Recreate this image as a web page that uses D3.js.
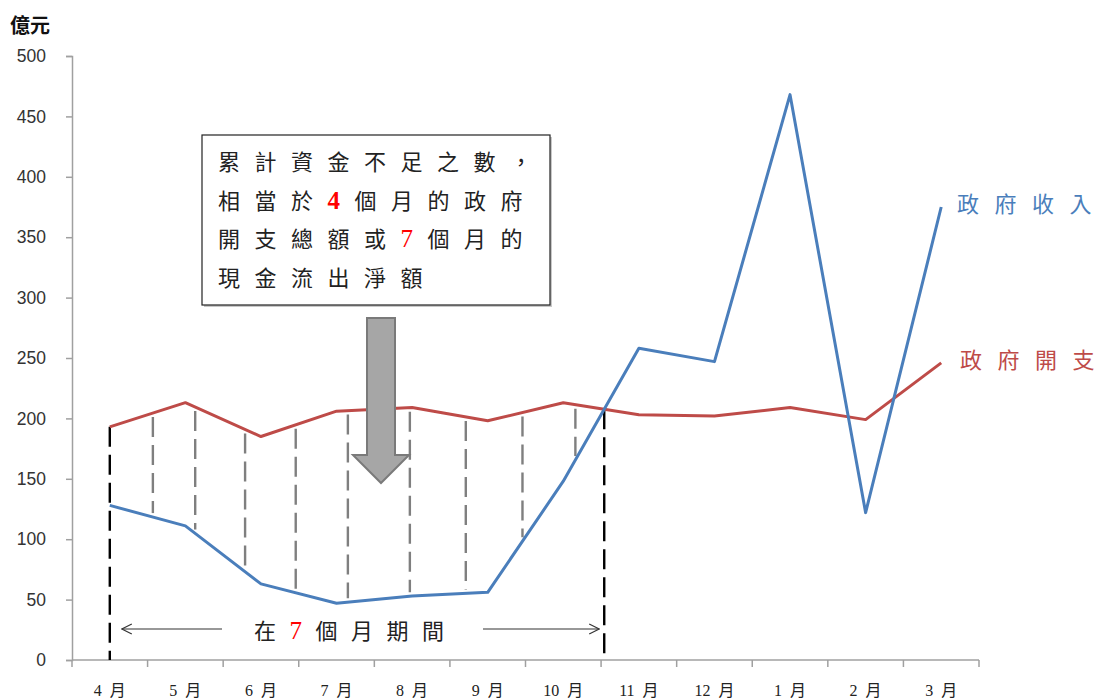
<!DOCTYPE html>
<html>
<head>
<meta charset="utf-8">
<script src="https://cdn.jsdelivr.net/npm/d3@7"></script>
<style>
  html, body { margin: 0; padding: 0; background: #fff; }
  svg { display: block; }
</style>
</head>
<body>
<svg id="chart" width="1099" height="700"></svg>
<script>
// Monthly government cash flows (億元), fiscal year April–March
const months = ["4 月", "5 月", "6 月", "7 月", "8 月", "9 月", "10 月", "11 月", "12 月", "1 月", "2 月", "3 月"];
const revenue = [128, 111, 63, 47, 53, 56, 148, 258, 247, 468, 122, 375];
const expenditure = [193, 213, 185, 206, 209, 198, 213, 203, 202, 209, 199, 246];
const yTicks = [0, 50, 100, 150, 200, 250, 300, 350, 400, 450, 500];
const seriesNames = ["政府收入", "政府開支"];
// Fractional month positions of the gray gap markers between the two lines
const gapMarks = [0.57, 1.13, 1.79, 2.46, 3.15, 3.97, 4.71, 5.46, 6.16];
// Annotation text, split into plain and highlighted runs
const noteLines = [
  [["累計資金不足之數，", false]],
  [["相當於", false], ["4", "bold"], ["個月的政府", false]],
  [["開支總額或", false], ["7", "red"], ["個月的", false]],
  [["現金流出淨額", false]]
];
const periodText = [["在", false], ["7", "red"], ["個月期間", false]];

const svg = d3.select("#chart");
const CJK = "'Noto Sans CJK TC', 'Noto Sans CJK SC', sans-serif";
const blue = "#4a7ebb", red = "#be4b48";

const x = d3.scaleBand().domain(months).range([72, 979]).paddingInner(0).paddingOuter(0);
const y = d3.scaleLinear().domain([0, 500]).range([660, 56]);
const step = x.step();
const xc = i => x(months[0]) + step / 2 + i * step;

// value of a series at a fractional month index
const at = (arr, t) => {
  const i = Math.min(Math.floor(t), arr.length - 2);
  const f = t - i;
  return arr[i] + (arr[i + 1] - arr[i]) * f;
};

// Y axis
const yAxis = svg.append("g").attr("transform", "translate(72,0)")
  .call(d3.axisLeft(y).tickValues(yTicks).tickSize(6).tickPadding(20));
yAxis.select(".domain").attr("stroke", "#a0a0a0").attr("stroke-width", 1.5);
yAxis.selectAll(".tick line").attr("stroke", "#a0a0a0").attr("stroke-width", 1.5);
yAxis.selectAll(".tick text").attr("font-family", "'Liberation Sans', Arial, sans-serif")
  .attr("font-size", 17.5).attr("fill", "#333");

// X axis: ticks at band boundaries, labels at band centers
const xAxis = svg.append("g").attr("transform", "translate(0,660)");
xAxis.append("line").attr("x1", 72).attr("x2", 979).attr("stroke", "#a0a0a0").attr("stroke-width", 1.5);
const bounds = months.map(m => x(m)).concat([x(months[months.length - 1]) + step]);
xAxis.selectAll("line.tk").data(bounds).join("line").attr("class", "tk")
  .attr("x1", d => d).attr("x2", d => d).attr("y1", 0).attr("y2", 7)
  .attr("stroke", "#a0a0a0").attr("stroke-width", 1.5);
xAxis.selectAll("text").data(months).join("text")
  .attr("x", d => x(d) + step / 2).attr("y", 36)
  .attr("text-anchor", "middle")
  .attr("font-family", "'Liberation Serif', " + CJK).attr("font-size", 16).attr("fill", "#222")
  .text(d => d.replace(" ", "\u00a0\u00a0"));

// unit label
svg.append("text").attr("x", 10).attr("y", 33)
  .attr("font-family", CJK).attr("font-size", 20).attr("font-weight", "bold").attr("fill", "#111")
  .text("億元");

// gray gap markers between expenditure and revenue
svg.append("g").selectAll("line").data(gapMarks).join("line")
  .attr("x1", t => xc(t)).attr("x2", t => xc(t))
  .attr("y1", t => y(at(expenditure, t)) + 4)
  .attr("y2", t => y(at(revenue, t)) - 4)
  .attr("stroke", "#7f7f7f").attr("stroke-width", 2.4).attr("stroke-dasharray", "20,8");

// crossing point of the two series between 10月 and 11月
const k = 6;
const d0 = expenditure[k] - revenue[k], d1 = expenditure[k + 1] - revenue[k + 1];
const tCross = k + d0 / (d0 - d1);

// black boundary markers of the shortfall period
svg.append("g").selectAll("line").data([0, tCross]).join("line")
  .attr("x1", t => xc(t)).attr("x2", t => xc(t))
  .attr("y1", t => y(at(expenditure, t)))
  .attr("y2", y(0))
  .attr("stroke", "#000").attr("stroke-width", 2.4).attr("stroke-dasharray", "20,8");

// series lines
const line = d3.line().x((d, i) => xc(i)).y(d => y(d));
svg.append("path").datum(expenditure).attr("d", line)
  .attr("fill", "none").attr("stroke", red).attr("stroke-width", 3).attr("stroke-linejoin", "round");
svg.append("path").datum(revenue).attr("d", line)
  .attr("fill", "none").attr("stroke", blue).attr("stroke-width", 3).attr("stroke-linejoin", "round");

// series labels, one glyph per position
const lab = [[seriesNames[0], blue, 957, 212], [seriesNames[1], red, 960, 368]];
lab.forEach(([name, col, x0, yb]) => {
  const chars = Array.from(name);
  svg.append("text")
    .attr("x", chars.map((c, i) => x0 + i * 37.5).join(" ")).attr("y", yb)
    .attr("font-family", CJK).attr("font-size", 22).attr("fill", col).text(name);
});

// downward block arrow
const ax = 381, aTop = 318, aShaft = 455, aTip = 483, sw = 14, hw = 28;
svg.append("path")
  .attr("d", `M${ax - sw},${aTop} L${ax + sw},${aTop} L${ax + sw},${aShaft} L${ax + hw},${aShaft} L${ax},${aTip} L${ax - hw},${aShaft} L${ax - sw},${aShaft} Z`)
  .attr("fill", "#a6a6a6").attr("stroke", "#7a7a7a").attr("stroke-width", 2).attr("stroke-linejoin", "miter");

// annotation box
svg.append("rect").attr("x", 204).attr("y", 137).attr("width", 348).attr("height", 170).attr("fill", "#c8c8c8");
svg.append("rect").attr("x", 202).attr("y", 135).attr("width", 348).attr("height", 170)
  .attr("fill", "#fff").attr("stroke", "#222").attr("stroke-width", 1.2);

function runs(sel, parts) {
  parts.forEach(([s, kind]) => {
    const ts = sel.append("tspan").text(s);
    if (kind === "bold") ts.attr("fill", "#ff0000").attr("font-weight", "bold")
      .attr("font-family", "'Liberation Serif', serif").attr("font-size", 25);
    if (kind === "red") ts.attr("fill", "#ff0000")
      .attr("font-family", "'Liberation Serif', serif").attr("font-size", 25);
  });
}

noteLines.forEach((parts, i) => {
  const t = svg.append("text").attr("x", 218).attr("y", 170 + i * 38.5)
    .attr("font-family", CJK).attr("font-size", 22).attr("letter-spacing", 14.5).attr("fill", "#222");
  runs(t, parts);
});

// period caption with arrows
const pt = svg.append("text").attr("x", 254).attr("y", 639)
  .attr("font-family", CJK).attr("font-size", 22).attr("letter-spacing", 13.5).attr("fill", "#222");
runs(pt, periodText);

const defs = svg.append("defs");
defs.append("marker").attr("id", "open").attr("viewBox", "0 0 12 12").attr("refX", 11).attr("refY", 6)
  .attr("markerWidth", 12).attr("markerHeight", 12).attr("markerUnits", "userSpaceOnUse").attr("orient", "auto")
  .append("path").attr("d", "M1,1 L11,6 L1,11").attr("fill", "none").attr("stroke", "#333").attr("stroke-width", 1.2);

svg.append("line").attr("x1", 222).attr("y1", 629).attr("x2", xc(0) + 12).attr("y2", 629)
  .attr("stroke", "#333").attr("stroke-width", 1.2).attr("marker-end", "url(#open)");
svg.append("line").attr("x1", 483).attr("y1", 629).attr("x2", xc(tCross) - 5).attr("y2", 629)
  .attr("stroke", "#333").attr("stroke-width", 1.2).attr("marker-end", "url(#open)");
</script>
</body>
</html>
